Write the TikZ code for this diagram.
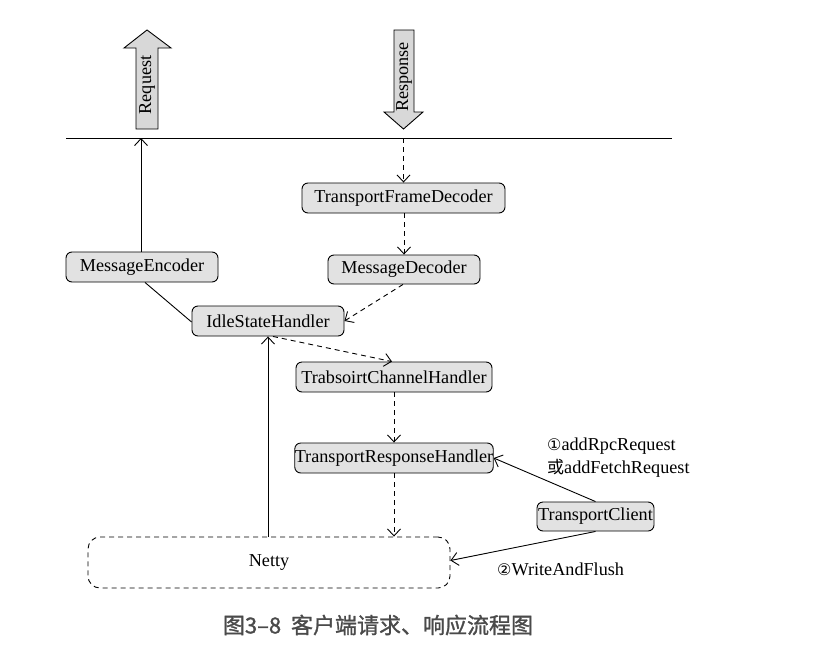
\documentclass[tikz,border=0pt]{standalone}
\usepackage{fontspec}
\setmainfont{Liberation Serif}
\newfontfamily\cjk{Noto Sans CJK SC}
\newfontfamily\cjkcap[FakeBold=1.2]{Noto Sans CJK SC}
\newfontfamily\symf{DejaVu Sans}
\usetikzlibrary{arrows.meta}
\definecolor{boxfill}{HTML}{E2E2E2}
\definecolor{arrfill}{HTML}{D8D8D8}
\definecolor{captc}{HTML}{4A4A4A}
\tikzset{
  box/.style={draw, line width=0.9pt, rounded corners=6pt, fill=boxfill, inner sep=0pt,
    minimum height=30pt, font=\fontsize{18.2}{21}\selectfont},
  conn/.style={line width=0.9pt},
  tip/.style={-{Straight Barb[length=7pt,width=13pt,line width=0.9pt]}},
  dconn/.style={conn, dash pattern=on 5pt off 4pt},
  lbl/.style={font=\fontsize{18.2}{21}\selectfont, inner sep=0pt, anchor=west},
  blockarrow/.style={draw, line width=0.9pt, fill=arrfill}
}
\begin{document}
\begin{tikzpicture}[x=1pt,y=-1pt]
\useasboundingbox (0,0) rectangle (818,653);
% top line
\coordinate (lineL) at (66,138);
\coordinate (lineR) at (672,138);
\draw[line width=1pt] (lineL) -- (lineR);
% block arrows
\draw[blockarrow] (136,129) -- (136,48) -- (124,48) -- (147,30) -- (171,48) -- (158,48) -- (158,129) -- cycle;
\node[rotate=90, font=\fontsize{18.2}{21}\selectfont, inner sep=0pt] (reqtxt) at (147,85) {Request};
\draw[blockarrow] (394,30) -- (414,30) -- (414,112) -- (423,112) -- (403.5,129) -- (384,112) -- (394,112) -- cycle;
\node[rotate=90, font=\fontsize{18.2}{21}\selectfont, inner sep=0pt] (restxt) at (404,77) {Response};
% nodes
\node[box, minimum width=203pt] (tfd) at (403.5,198) {TransportFrameDecoder};
\node[box, minimum width=152pt] (menc) at (142,267) {MessageEncoder};
\node[box, minimum width=152pt, minimum height=29pt] (mdec) at (404,269.5) {MessageDecoder};
\node[box, minimum width=152pt] (idle) at (268,321) {IdleStateHandler};
\node[box, minimum width=196pt] (tch) at (394,377) {TrabsoirtChannelHandler};
\node[box, minimum width=196pt] (trh) at (394,458) {TransportResponseHandler};
\node[box, minimum width=117pt, minimum height=29pt] (tc) at (595.5,516.5) {TransportClient};
\node[draw, line width=0.9pt, dash pattern=on 5pt off 4pt, rounded corners=12pt,
      minimum width=362pt, minimum height=51pt, inner sep=0pt,
      font=\fontsize{18.2}{21}\selectfont] (netty) at (269,562.5) {Netty};
% connectors
\coordinate (reqend) at (141,138);
\coordinate (resstart) at (403.5,138);
\draw[conn, tip] (menc.north -| reqend) -- (reqend);
\draw[conn] ([xshift=3pt]menc.south) -- ([yshift=-1pt]idle.west);
\draw[dconn, tip] (resstart) -- (tfd.north);
\draw[dconn, tip] (tfd.south -| mdec.north) -- (mdec.north);
\draw[dconn, tip] ([xshift=-1pt]mdec.south) -- (idle.east);
\draw[dconn, tip] ([xshift=5pt]idle.south) -- ([xshift=-2pt]tch.north);
\draw[conn, tip] (netty.north -| idle.south) -- (idle.south);
\draw[dconn, tip] (tch.south) -- (trh.north);
\draw[dconn, tip] (trh.south) -- (trh.south |- netty.north);
\draw[conn, tip] (tc.north) -- (trh.east);
\draw[conn, tip] (tc.south) -- ([yshift=2pt]netty.east);
% labels
\node[lbl] (l1) at (547,446) {{\symf\fontsize{16}{18}\selectfont ①}addRpcRequest};
\node[lbl] (l2) at (547,468) {{\cjk\fontsize{17}{18}\selectfont 或}addFetchRequest};
\node[lbl] (l3) at (497,569) {{\symf\fontsize{16}{18}\selectfont ②}WriteAndFlush};
% caption
\node[font=\cjkcap\fontsize{22}{26}\selectfont, text=captc, inner sep=0pt] (cap) at (378,625) {图3–8\hspace{0.45em}客户端请求、响应流程图};
\end{tikzpicture}
\end{document}
